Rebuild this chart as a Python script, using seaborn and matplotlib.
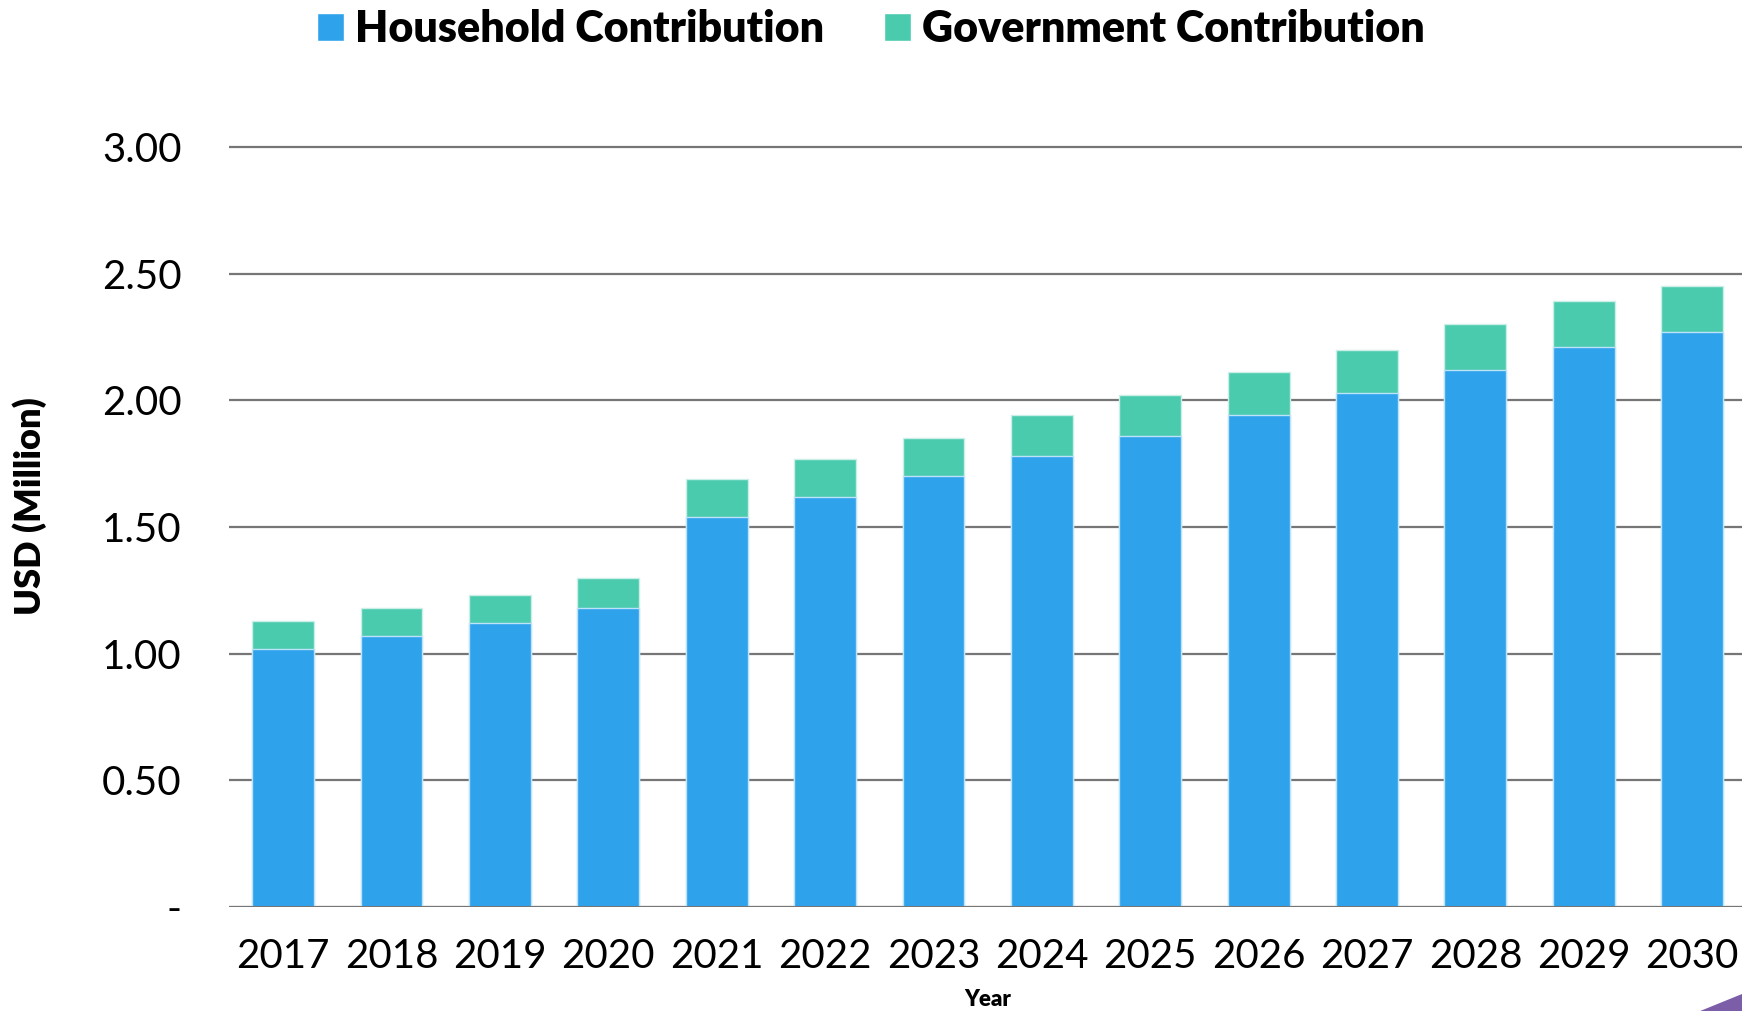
import pandas as pd
import numpy as np
import matplotlib
matplotlib.use("Agg")
import matplotlib.pyplot as plt
from matplotlib.patches import Patch, Polygon
import seaborn as sns

# data (USD million)
years = ["2017", "2018", "2019", "2020", "2021", "2022", "2023",
         "2024", "2025", "2026", "2027", "2028", "2029", "2030"]
household = [1.02, 1.07, 1.12, 1.18, 1.54, 1.62, 1.70,
             1.78, 1.86, 1.94, 2.03, 2.12, 2.21, 2.27]
government = [0.11, 0.11, 0.11, 0.12, 0.15, 0.15, 0.15,
              0.16, 0.16, 0.17, 0.17, 0.18, 0.18, 0.18]

blue = "#2FA2EC"
teal = "#4BCBAD"

df = pd.DataFrame({"Year": years, "Household": household, "Government": government})
df["Total"] = df["Household"] + df["Government"]

sns.set_style("white")
plt.rcParams['font.family'] = ['Lato', 'DejaVu Sans']

fig = plt.figure(figsize=(17.42, 10.11), dpi=100)
ax = fig.add_axes([229 / 1742, 104 / 1011, 1 - 229 / 1742, 0.827])

# stacked bars: total (government on top) first, household over it
sns.barplot(data=df, x="Year", y="Total", color=teal, width=0.57, saturation=1,
            edgecolor="#C9EFE6", linewidth=1, ax=ax, zorder=3)
sns.barplot(data=df, x="Year", y="Household", color=blue, width=0.57, saturation=1,
            edgecolor="#BDE3FA", linewidth=1, ax=ax, zorder=4)

ax.set_ylim(0, 3.3)
ax.set_xlim(-0.5, 13.46)
ax.set_yticks([0, 0.5, 1.0, 1.5, 2.0, 2.5, 3.0])
ax.set_yticklabels(["-", "0.50", "1.00", "1.50", "2.00", "2.50", "3.00"])
ax.yaxis.grid(True, color="#767676", linewidth=1.6, zorder=0)
ax.set_axisbelow(True)
for s in ax.spines.values():
    s.set_visible(False)
ax.axhline(0, color="#767676", linewidth=2.2, zorder=5)
ax.tick_params(axis="both", length=0, labelsize=29, colors="black")
ax.tick_params(axis="x", pad=22)
ax.tick_params(axis="y", pad=34)
ax.set_xlabel("")
ax.set_ylabel("")

fig.text(30 / 1742, 0.4995, "USD (Million)", rotation=90, ha="center", va="center",
         fontsize=26, fontweight="heavy", color="black")
fig.text(988 / 1742, 1 - 1000 / 1011, "Year", ha="center", va="center",
         fontsize=16, fontweight="heavy", color="black")

handles = [Patch(facecolor=blue, label="Household Contribution"),
           Patch(facecolor=teal, label="Government Contribution")]
leg = fig.legend(handles=handles, loc="center", bbox_to_anchor=(0.5, 0.971), ncol=2,
                 frameon=False, handlelength=0.62, handleheight=0.62, handletextpad=0.25,
                 columnspacing=1.4, prop={"size": 31, "weight": "heavy"})
for t in leg.get_texts():
    t.set_color("black")

# purple corner shape at bottom right
fig.patches.append(Polygon([[0.976, 0], [1, 0.0168], [1, 0]], closed=True,
                           transform=fig.transFigure, facecolor="#7B5EA7",
                           edgecolor="none"))

fig.savefig("out.png", dpi=100)
